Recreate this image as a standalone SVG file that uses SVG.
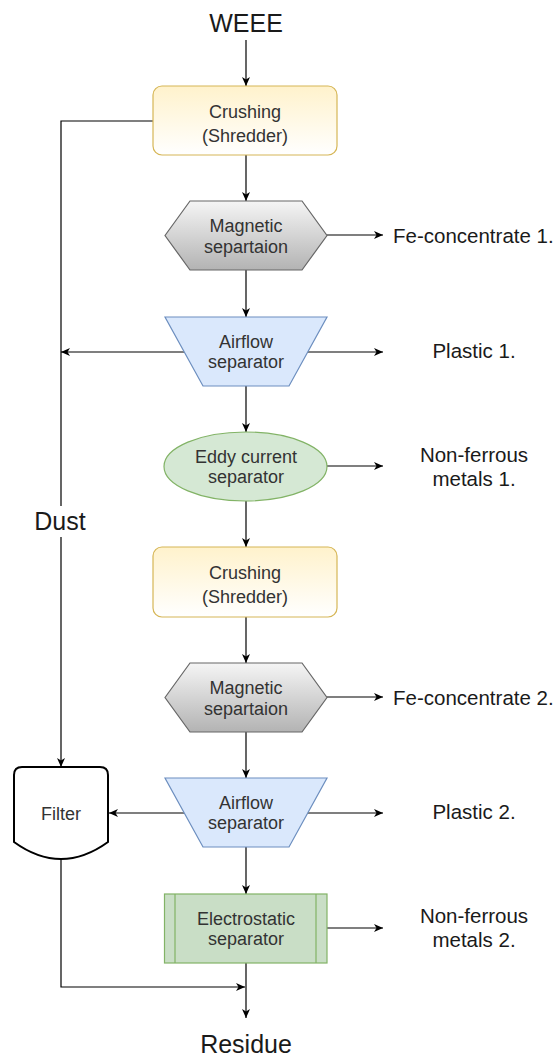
<svg xmlns="http://www.w3.org/2000/svg" width="557" height="1057" viewBox="0 0 557 1057">
<defs>
<linearGradient id="gYellow" x1="0" y1="0" x2="0" y2="1"><stop offset="0" stop-color="#fff2cc"/><stop offset="1" stop-color="#ffffff"/></linearGradient>
<linearGradient id="gGray" x1="0" y1="0" x2="0" y2="1"><stop offset="0" stop-color="#f5f5f5"/><stop offset="1" stop-color="#b3b3b3"/></linearGradient>
<marker id="arr" markerUnits="userSpaceOnUse" markerWidth="10" markerHeight="9" viewBox="0 0 10 9" refX="9" refY="4.5" orient="auto"><path d="M0,0.5 L9,4.5 L0,8.5 L2.5,4.5 Z" fill="#000"/></marker>
<style>
.edge{fill:none;stroke:#000;stroke-width:1.2}
.ea{marker-end:url(#arr)}
.nt{font-family:"Liberation Sans",Arial,sans-serif;font-size:18px;fill:#333;text-anchor:middle}
.ot{font-family:"Liberation Sans",Arial,sans-serif;font-size:20.5px;fill:#1a1a1a}
.big{font-family:"Liberation Sans",Arial,sans-serif;font-size:25px;fill:#1a1a1a;text-anchor:middle}
.crush{fill:url(#gYellow);stroke:#d6b656;stroke-width:1.2}
.hex{fill:url(#gGray);stroke:#666;stroke-width:1.2}
.air{fill:#dae8fc;stroke:#6c8ebf;stroke-width:1.2}
.eddy{fill:#d5e8d4;stroke:#82b366;stroke-width:1.2}
.elec{fill:#c9dec6;stroke:#82b366;stroke-width:1.2}
</style>
</defs>
<rect width="557" height="1057" fill="#fff"/>

<g id="connectors">
<path class="edge ea" d="M246,40 V86"/>
<path class="edge ea" d="M246,155 V201"/>
<path class="edge ea" d="M246,270 V317"/>
<path class="edge ea" d="M246,386 V432"/>
<path class="edge ea" d="M246,501 V547"/>
<path class="edge ea" d="M246,617 V663"/>
<path class="edge ea" d="M246,732 V778"/>
<path class="edge ea" d="M246,847 V894"/>
<path class="edge ea" d="M246,963 V1018"/>
<path class="edge ea" d="M153,121 H61 V767"/>
<path class="edge ea" d="M184,352 H61"/>
<path class="edge ea" d="M307,352 H383"/>
<path class="edge ea" d="M327,235 H383"/>
<path class="edge ea" d="M327,466 H383"/>
<path class="edge ea" d="M327,697 H383"/>
<path class="edge ea" d="M184,813 H109"/>
<path class="edge ea" d="M307,813 H383"/>
<path class="edge ea" d="M327,928 H383"/>
<path class="edge ea" d="M61,859 V987 H245"/>
</g>

<g id="weee"><text class="big" x="246" y="32">WEEE</text></g>
<g id="dust"><rect x="28" y="506" width="66" height="31" fill="#fff"/><text class="big" x="60" y="530">Dust</text></g>
<g id="residue"><text class="big" x="246" y="1053" font-size="26">Residue</text></g>

<g id="crushing1"><rect class="crush" x="153" y="86" width="184" height="69" rx="9"/><text class="nt" x="245" y="118" font-size="19.5">Crushing</text><text class="nt" x="245" y="142" font-size="17.5">(Shredder)</text></g>
<g id="magnetic1"><path class="hex" d="M165,235.5 L190,201 H302 L327,235.5 L302,270 H190 Z"/><text class="nt" x="246" y="232">Magnetic</text><text class="nt" x="246" y="253">separtaion</text></g>
<g id="airflow1"><path class="air" d="M165,317 H327 L289,386 H203 Z"/><text class="nt" x="246" y="348">Airflow</text><text class="nt" x="246" y="368">separator</text></g>
<g id="eddy"><ellipse class="eddy" cx="245.5" cy="466.5" rx="81.5" ry="34.5"/><text class="nt" x="246" y="463">Eddy current</text><text class="nt" x="246" y="483">separator</text></g>
<g id="crushing2"><rect class="crush" x="153" y="547" width="184" height="70" rx="9"/><text class="nt" x="245" y="579" font-size="19.5">Crushing</text><text class="nt" x="245" y="603" font-size="17.5">(Shredder)</text></g>
<g id="magnetic2"><path class="hex" d="M165,697.5 L190,663 H302 L327,697.5 L302,732 H190 Z"/><text class="nt" x="246" y="694">Magnetic</text><text class="nt" x="246" y="715">separtaion</text></g>
<g id="airflow2"><path class="air" d="M165,778 H327 L289,847 H203 Z"/><text class="nt" x="246" y="809">Airflow</text><text class="nt" x="246" y="829">separator</text></g>
<g id="electrostatic"><rect class="elec" x="164.5" y="894" width="162.5" height="69"/><path class="elec" d="M175,894 V963 M316,894 V963"/><text class="nt" x="246" y="925">Electrostatic</text><text class="nt" x="246" y="945">separator</text></g>
<g id="filter"><path d="M14,775 Q14,767 22,767 H100 Q108,767 108,775 V842 Q61,876 14,842 Z" fill="#fff" stroke="#000" stroke-width="2"/><text class="nt" x="61" y="820">Filter</text></g>

<g id="fe1"><text class="ot" x="393" y="243">Fe-concentrate 1.</text></g>
<g id="plastic1"><text class="ot" x="474" y="358" text-anchor="middle">Plastic 1.</text></g>
<g id="nonferrous1"><text class="ot" x="474" y="462" text-anchor="middle">Non-ferrous</text><text class="ot" x="474" y="486" text-anchor="middle">metals 1.</text></g>
<g id="fe2"><text class="ot" x="393" y="705">Fe-concentrate 2.</text></g>
<g id="plastic2"><text class="ot" x="474" y="819" text-anchor="middle">Plastic 2.</text></g>
<g id="nonferrous2"><text class="ot" x="474" y="923" text-anchor="middle">Non-ferrous</text><text class="ot" x="474" y="947" text-anchor="middle">metals 2.</text></g>
</svg>
